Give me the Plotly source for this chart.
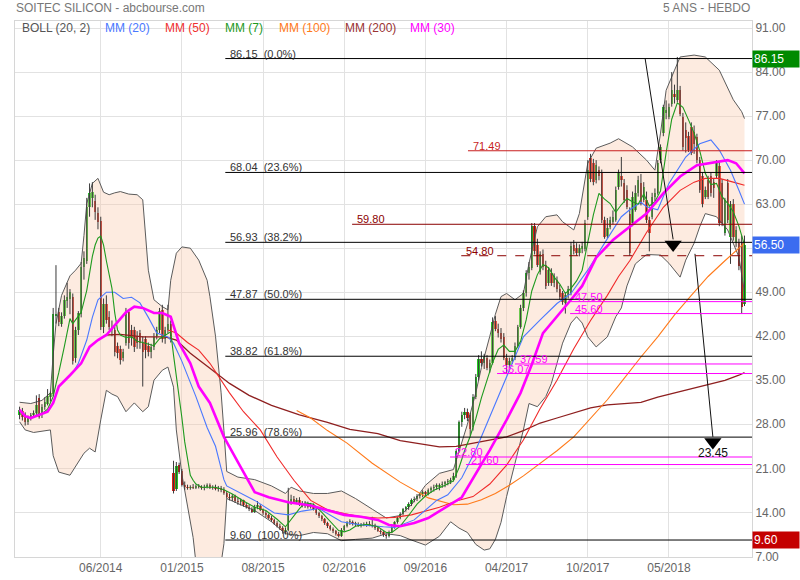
import plotly.graph_objects as go

# ---------------- data ----------------
tick_bars = [29, 58, 87, 116, 145, 174, 203, 232]
tick_labels = ["06/2014", "01/2015", "08/2015", "02/2016", "09/2016", "04/2017", "10/2017", "05/2018"]
price_ticks = [7, 14, 21, 28, 35, 42, 49, 56, 63, 70, 77, 84, 91]
price_tick_text = ["7.00", "14.00", "21.00", "28.00", "35.00", "42.00", "49.00", "", "63.00", "70.00",
                   "77.00", "84.00", "91.00"]

opens = [
    29.5, 30.1, 29.6, 28.3, 29.0, 29.4, 29.8, 32.2, 29.4, 30.8,
    31.3, 32.4, 32.8, 45.2, 45.8, 44.0, 45.2, 47.6, 48.0, 48.2,
    38.5, 43.0, 45.5, 53.0, 54.0, 62.5, 64.0, 63.5, 61.6, 60.4,
    43.5, 47.2, 45.0, 43.5, 43.0, 40.5, 40.0, 38.5, 40.9, 45.9,
    43.0, 43.0, 42.0, 42.5, 40.9, 41.5, 40.5, 39.5, 40.3, 42.0,
    43.0, 46.2, 41.5, 43.0, 44.0, 20.2, 17.7, 21.6, 20.6, 18.4,
    18.0, 17.9, 18.1, 17.9, 18.2, 18.0, 17.8, 18.1, 18.3, 17.9,
    18.0, 17.7, 17.9, 17.6, 17.0, 16.5, 16.3, 16.6, 15.8, 15.6,
    15.9, 15.2, 14.8, 14.5, 14.1, 14.9, 15.0, 14.4, 13.9, 13.5,
    13.1, 12.8, 12.3, 11.9, 11.5, 11.0, 11.2, 15.7, 16.2, 15.6,
    16.0, 15.3, 15.0, 15.4, 14.9, 15.2, 14.6, 13.9, 13.4, 12.9,
    12.3, 11.8, 11.4, 11.0, 10.6, 10.3, 11.2, 11.8, 12.4, 12.5,
    12.1, 12.2, 11.9, 12.1, 12.0, 12.2, 11.9, 12.0, 11.5, 11.1,
    10.8, 10.4, 10.2, 10.9, 11.6, 12.4, 13.1, 13.8, 14.5, 14.8,
    15.3, 16.0, 16.2, 16.6, 16.9, 17.2, 16.9, 17.5, 17.8, 18.1,
    18.0, 18.4, 18.5, 18.8, 18.9, 19.2, 19.8, 23.8, 28.3, 29.5,
    30.0, 29.5, 27.5, 32.4, 35.5, 38.4, 37.7, 38.5, 37.0, 37.8,
    44.5, 43.2, 42.5, 41.9, 38.5, 37.5, 38.0, 38.5, 40.5, 43.5,
    46.5, 48.8, 52.0, 52.8, 59.5, 56.5, 52.2, 55.0, 53.3, 50.5,
    52.0, 50.5, 51.0, 49.5, 48.8, 47.3, 48.5, 48.8, 56.5, 56.0,
    55.2, 55.8, 55.9, 61.0, 70.3, 69.5, 66.8, 68.5, 67.9, 60.5,
    58.0, 59.4, 60.2, 60.5, 65.8, 67.5, 66.3, 65.2, 61.5, 60.0,
    62.1, 64.7, 66.3, 63.7, 63.7, 60.5, 61.0, 64.2, 64.8, 70.0,
    74.3, 77.5, 76.9, 79.0, 80.5, 79.6, 81.1, 76.9, 74.8, 73.8,
    75.3, 74.5, 73.7, 70.0, 67.4, 64.2, 66.8, 67.4, 66.5, 67.4,
    69.0, 66.3, 58.4, 66.3, 57.8, 63.1, 56.8, 56.8, 56.8, 47.2,
]
highs = [
    30.8, 30.6, 29.9, 29.4, 29.8, 30.2, 32.6, 32.8, 31.2, 32.3,
    33.6, 33.2, 46.5, 53.3, 46.5, 45.8, 48.5, 50.5, 49.5, 48.8,
    43.5, 46.0, 53.8, 55.5, 64.0, 66.3, 66.5, 64.5, 62.5, 61.0,
    48.0, 48.5, 46.0, 44.5, 43.5, 41.0, 40.5, 40.0, 46.5, 46.3,
    43.8, 43.5, 42.8, 43.0, 42.0, 42.0, 41.0, 40.8, 42.5, 43.5,
    46.5, 47.0, 43.5, 47.0, 44.5, 22.2, 22.0, 21.9, 20.9, 18.9,
    18.4, 18.3, 18.5, 18.4, 18.5, 18.3, 18.4, 18.6, 18.6, 18.3,
    18.4, 18.2, 18.2, 18.0, 17.4, 17.0, 16.9, 16.8, 16.3, 16.2,
    16.0, 15.5, 15.2, 14.8, 15.2, 15.8, 15.3, 14.6, 14.2, 13.8,
    13.4, 13.0, 12.6, 12.2, 11.8, 11.6, 17.9, 16.8, 16.6, 16.3,
    16.4, 15.8, 15.8, 15.7, 15.5, 15.4, 14.8, 14.1, 13.6, 13.1,
    12.5, 12.0, 11.6, 11.2, 10.9, 11.5, 12.0, 12.6, 12.9, 12.7,
    12.5, 12.4, 12.3, 12.4, 12.5, 12.6, 13.3, 12.2, 11.7, 11.3,
    11.0, 10.6, 11.1, 11.8, 12.6, 13.3, 14.0, 14.7, 15.0, 15.6,
    16.2, 16.5, 16.9, 17.1, 17.5, 17.4, 17.8, 18.1, 18.4, 18.6,
    18.6, 18.9, 19.0, 19.3, 19.5, 20.3, 24.0, 28.6, 30.0, 30.6,
    30.5, 29.8, 32.8, 36.0, 39.0, 39.6, 39.2, 39.0, 38.3, 45.0,
    45.2, 44.0, 43.3, 42.5, 39.2, 38.6, 39.0, 41.0, 43.8, 47.0,
    49.3, 52.5, 53.8, 60.0, 60.0, 57.5, 55.5, 55.8, 54.0, 53.0,
    52.8, 52.0, 51.5, 50.2, 49.2, 49.0, 50.0, 57.0, 57.3, 56.8,
    56.6, 57.0, 60.5, 70.0, 71.0, 70.2, 70.0, 69.0, 68.5, 61.0,
    60.8, 61.0, 62.0, 65.8, 68.5, 70.5, 67.0, 66.0, 62.5, 65.0,
    66.0, 67.5, 67.8, 66.5, 65.0, 61.0, 64.8, 65.5, 70.0, 72.5,
    78.8, 79.5, 79.0, 84.0, 82.0, 86.4, 81.8, 77.5, 76.0, 74.5,
    76.0, 75.5, 74.2, 70.5, 68.0, 65.8, 67.5, 68.0, 67.0, 70.0,
    69.8, 67.0, 64.0, 67.0, 63.5, 63.8, 59.5, 57.5, 58.0, 58.0,
]
lows = [
    28.8, 28.6, 27.8, 27.9, 28.6, 29.0, 29.5, 28.9, 29.0, 30.3,
    31.0, 31.6, 32.5, 44.0, 43.6, 43.5, 44.8, 46.5, 45.5, 37.5,
    37.8, 42.2, 45.0, 51.0, 53.5, 61.0, 62.5, 60.5, 59.0, 43.0,
    42.5, 44.0, 43.0, 42.0, 38.8, 38.5, 37.5, 38.0, 40.5, 40.0,
    40.5, 39.5, 40.0, 40.0, 34.0, 38.5, 38.8, 38.5, 39.8, 41.5,
    42.5, 41.0, 40.8, 42.5, 41.0, 17.0, 17.4, 20.1, 18.1, 17.6,
    17.6, 17.6, 17.7, 17.7, 17.8, 17.6, 17.5, 17.8, 17.7, 17.6,
    17.5, 17.3, 17.2, 16.8, 16.2, 15.9, 15.8, 15.5, 15.2, 15.1,
    14.9, 14.6, 14.2, 13.9, 13.9, 14.5, 14.2, 13.6, 13.2, 12.9,
    12.5, 12.0, 11.6, 11.2, 10.6, 10.5, 11.0, 15.2, 15.4, 15.3,
    15.0, 14.8, 14.7, 14.6, 14.6, 14.3, 13.6, 13.1, 12.6, 12.0,
    11.5, 11.1, 10.7, 10.3, 10.0, 10.1, 11.0, 11.6, 12.0, 11.9,
    11.8, 11.7, 11.6, 11.8, 11.7, 11.8, 11.6, 11.2, 10.9, 10.5,
    10.1, 9.8, 10.0, 10.7, 11.4, 12.2, 12.9, 13.5, 14.1, 14.4,
    15.0, 15.6, 15.8, 16.2, 16.4, 16.5, 16.7, 17.1, 17.3, 17.6,
    17.5, 17.9, 18.0, 18.3, 18.5, 18.9, 19.5, 23.5, 27.6, 28.8,
    28.5, 26.2, 27.0, 32.0, 35.0, 37.2, 36.8, 36.6, 36.2, 37.5,
    42.8, 41.8, 41.0, 38.2, 36.0, 37.0, 37.6, 38.2, 40.2, 43.2,
    46.0, 48.3, 51.0, 52.5, 55.0, 53.0, 51.8, 52.5, 49.5, 50.0,
    50.0, 49.8, 49.0, 47.8, 47.0, 45.6, 48.0, 48.5, 55.0, 54.8,
    54.7, 55.2, 55.5, 60.5, 66.5, 66.0, 66.3, 66.8, 60.0, 57.5,
    57.6, 59.0, 59.8, 60.2, 65.3, 65.8, 63.2, 62.2, 54.8, 59.5,
    61.8, 64.2, 62.8, 63.3, 60.0, 55.5, 60.6, 63.5, 64.5, 69.5,
    73.8, 76.5, 76.5, 78.5, 79.0, 79.2, 77.0, 71.5, 71.2, 71.3,
    70.8, 71.0, 69.5, 64.8, 62.5, 63.8, 63.8, 64.2, 64.0, 67.0,
    59.5, 59.5, 58.0, 60.0, 53.5, 57.2, 56.2, 52.5, 45.6, 46.8,
]
closes = [
    30.3, 29.2, 28.3, 29.0, 29.5, 29.8, 31.1, 29.2, 30.8, 31.5,
    32.5, 32.9, 45.5, 45.6, 44.2, 45.2, 47.8, 48.3, 49.0, 38.0,
    43.0, 45.7, 53.0, 54.5, 62.5, 64.8, 65.0, 61.8, 60.2, 43.5,
    47.2, 44.6, 43.5, 43.0, 39.5, 39.3, 38.2, 39.5, 45.9, 40.9,
    41.9, 40.3, 41.0, 40.9, 39.5, 39.8, 39.5, 40.3, 41.9, 43.0,
    46.0, 41.5, 43.0, 44.0, 42.0, 17.4, 21.3, 20.4, 18.4, 18.0,
    17.9, 18.1, 17.9, 18.2, 18.0, 17.8, 18.1, 18.3, 17.9, 18.0,
    17.7, 17.9, 17.5, 17.0, 16.5, 16.3, 16.6, 15.8, 15.6, 15.9,
    15.2, 14.8, 14.5, 14.1, 14.9, 15.2, 14.4, 13.9, 13.5, 13.1,
    12.8, 12.3, 11.9, 11.5, 11.0, 11.2, 15.7, 16.2, 15.6, 16.0,
    15.3, 15.0, 15.4, 14.9, 15.2, 14.6, 13.9, 13.4, 12.9, 12.3,
    11.8, 11.4, 11.0, 10.6, 10.3, 11.2, 11.8, 12.4, 12.5, 12.1,
    12.2, 11.9, 12.1, 12.0, 12.2, 11.9, 12.0, 11.5, 11.1, 10.8,
    10.4, 10.2, 10.9, 11.6, 12.4, 13.1, 13.8, 14.5, 14.8, 15.3,
    16.0, 16.2, 16.6, 16.9, 17.2, 16.9, 17.5, 17.8, 18.1, 18.3,
    18.4, 18.5, 18.8, 18.9, 19.2, 19.8, 23.8, 28.3, 29.5, 30.0,
    29.0, 27.3, 32.4, 35.5, 38.4, 37.7, 38.7, 37.0, 37.8, 44.3,
    43.2, 42.5, 41.5, 38.5, 37.5, 38.0, 38.5, 40.5, 43.5, 46.5,
    48.8, 52.0, 53.0, 59.6, 55.5, 53.3, 55.0, 53.0, 50.0, 52.5,
    50.5, 51.5, 49.5, 48.2, 47.5, 48.5, 49.5, 56.3, 55.5, 55.2,
    56.0, 56.3, 60.0, 68.5, 67.0, 66.5, 69.2, 67.5, 60.5, 57.8,
    59.2, 60.5, 61.0, 65.2, 67.9, 66.8, 63.7, 62.6, 55.2, 64.2,
    64.7, 66.8, 63.1, 65.8, 60.5, 58.4, 64.2, 64.8, 69.5, 72.1,
    78.5, 78.0, 78.5, 81.1, 80.0, 81.1, 77.4, 72.1, 73.5, 71.6,
    71.1, 72.5, 70.0, 65.2, 63.1, 65.2, 64.2, 64.7, 65.5, 69.5,
    60.0, 60.0, 63.7, 60.5, 63.1, 57.8, 58.9, 53.1, 46.7, 56.5,
]

# indicator lines (bar index, value)
mm7_bars = [6, 8, 10, 12, 13, 14, 16, 18, 19, 20, 22, 24, 26, 27, 28, 29, 30, 31, 32, 33, 34, 35, 36, 38, 40,
            42, 44, 46, 48, 50, 52, 54, 55, 56, 57, 58, 59, 60, 61, 62, 63, 65, 70, 73, 76, 80, 84, 88, 92, 95,
            96, 98, 100, 102, 105, 108, 111, 114, 116, 118, 120, 124, 128, 131, 133, 136, 139, 142, 145, 148,
            152, 155, 157, 159, 161, 163, 165, 167, 169, 171, 173, 175, 177, 179, 181, 183, 185, 187, 189, 191,
            193, 195, 197, 199, 201, 203, 205, 207, 209, 211, 213, 215, 217, 219, 221, 223, 225, 227, 229, 231,
            233, 235, 237, 239, 241, 243, 245, 247, 249, 251, 253, 255, 257, 259]
mm7_vals = [29.6, 29.7, 30.4, 32.4, 34.4, 36.2, 40.4, 44.8, 44.0, 44.6, 45.8, 49.3, 54.7, 56.5, 57.6, 57.9, 56.5,
            54.0, 51.8, 49.6, 45.7, 43.0, 42.2, 41.8, 41.9, 41.2, 41.0, 40.8, 40.5, 41.6, 42.2, 42.7, 39.0, 35.7,
            32.8, 29.0, 25.2, 22.4, 19.9, 19.1, 18.5, 18.0, 18.0, 17.6, 16.9, 15.8, 14.8, 14.3, 12.9, 11.7, 12.3,
            13.4, 14.6, 15.5, 15.3, 14.0, 12.5, 11.1, 10.9, 11.2, 11.8, 12.1, 11.7, 10.8, 10.8, 11.8, 13.5, 15.3,
            16.6, 17.5, 18.3, 19.0, 21.1, 23.8, 26.1, 28.9, 32.2, 35.2, 37.8, 39.9, 40.6, 39.6, 39.6, 41.2, 44.6,
            49.2, 51.8, 53.4, 52.9, 51.4, 50.3, 48.8, 49.6, 50.8, 52.5, 56.9, 61.3, 64.7, 63.8, 63.1, 61.7, 62.9,
            63.9, 63.4, 63.0, 64.6, 62.7, 63.4, 65.1, 71.2, 76.5, 79.1, 78.4, 76.4, 74.3, 71.5, 67.9, 66.1, 66.3,
            64.2, 63.1, 61.8, 59.5, 56.5]

mm20_bars = [19, 21, 24, 26, 28, 31, 34, 37, 40, 43, 46, 49, 53, 55, 58, 63, 67, 70, 72, 73, 74, 78, 84, 91, 96,
             101, 107, 115, 122, 130, 134, 141, 149, 153, 158, 163, 171, 176, 180, 186, 192, 197, 203, 209, 215,
             218, 222, 224, 228, 232, 238, 243, 247, 250, 254, 257, 259]
mm20_vals = [36.2, 37.7, 41.4, 45.0, 47.8, 49.0, 49.0, 48.0, 48.2, 47.3, 45.0, 42.5, 41.9, 40.9, 38.0, 32.4, 27.5,
             24.5, 21.0, 19.2, 18.2, 17.3, 15.9, 13.9, 13.6, 14.2, 14.6, 12.5, 12.0, 11.7, 11.6, 12.8, 15.9, 16.8,
             19.5, 23.9, 32.4, 37.7, 41.9, 44.6, 47.2, 48.8, 52.5, 56.8, 61.0, 62.1, 63.3, 62.6, 62.1, 66.3, 70.5,
             72.6, 73.2, 71.6, 68.4, 65.2, 63.0]

mm30_bars = [0, 2, 4, 7, 10, 12, 14, 18, 22, 25, 28, 31, 35, 38, 41, 44, 48, 51, 54, 57, 61, 64, 68, 73, 79, 84,
             89, 96, 104, 110, 116, 122, 128, 132, 136, 141, 146, 149, 158, 168, 174, 179, 183, 187, 192, 197, 201,
             206, 212, 218, 224, 230, 236, 242, 248, 253, 256, 259]
mm30_vals = [30.3, 29.3, 29.0, 29.5, 30.0, 31.4, 34.0, 35.8, 37.7, 40.3, 41.4, 42.2, 44.3, 45.8, 46.7, 46.5, 45.7,
             45.7, 45.1, 40.9, 37.7, 34.0, 31.4, 26.0, 21.2, 17.2, 16.4, 15.6, 15.1, 14.4, 13.6, 13.3, 12.8, 12.0,
             11.8, 12.3, 13.1, 13.9, 16.4, 23.9, 28.7, 33.0, 37.5, 42.5, 45.1, 47.8, 50.0, 54.5, 57.3, 59.4, 61.5,
             64.7, 67.4, 69.2, 69.7, 70.0, 69.5, 67.9]

mm50_bars = [53, 56, 60, 64, 68, 75, 80, 86, 92, 98, 104, 110, 116, 122, 128, 134, 140, 145, 150, 156, 162, 168,
             174, 180, 186, 192, 198, 204, 210, 214, 218, 224, 230, 236, 241, 245, 250, 255, 259]
mm50_vals = [43.0, 42.5, 41.0, 39.8, 37.7, 33.0, 30.0, 27.1, 22.8, 19.1, 15.9, 14.4, 13.8, 13.3, 13.1, 13.2, 13.6,
             14.2, 14.8, 15.8, 16.5, 18.5, 21.5, 25.5, 30.5, 35.0, 40.0, 44.5, 48.5, 51.5, 54.0, 58.5, 62.5, 65.2,
             66.5, 67.1, 67.1, 66.5, 66.0]

mm100_bars = [99, 104, 110, 117, 126, 136, 146, 155, 160, 165, 170, 175, 180, 186, 192, 198, 204, 210, 216, 222,
              228, 234, 240, 246, 252, 259]
mm100_vals = [30.2, 29.0, 27.0, 25.0, 21.8, 18.8, 16.3, 15.2, 15.3, 16.0, 17.0, 18.3, 19.8, 21.8, 23.8, 26.0,
              29.0, 31.9, 35.3, 38.7, 41.9, 45.4, 48.5, 51.5, 54.0, 56.8]

mm200_bars = [31, 36, 44, 52, 56, 61, 68, 75, 82, 90, 100, 110, 118, 128, 136, 144, 150, 156, 162, 168, 174, 180,
              186, 192, 198, 204, 210, 216, 222, 228, 234, 240, 246, 252, 257, 259]
mm200_vals = [42.2, 42.3, 41.9, 41.9, 41.4, 39.3, 36.9, 34.5, 32.6, 31.0, 29.5, 28.3, 27.2, 26.5, 25.4, 24.8, 24.4,
              24.5, 25.0, 25.5, 26.0, 27.0, 28.2, 29.0, 29.8, 30.6, 31.1, 31.3, 31.5, 32.3, 33.0, 33.6, 34.3, 35.0,
              35.8, 36.2]

boll_up_bars = [0, 4, 8, 11, 12, 13, 15, 18, 20, 22, 23, 24, 26, 28, 30, 32, 34, 36, 39, 42, 44, 45, 46, 48, 51,
                53, 54, 56, 58, 61, 64, 67, 68, 70, 72, 73, 74, 78, 84, 90, 95, 97, 100, 105, 110, 115, 120, 126,
                131, 136, 140, 145, 150, 155, 158, 160, 163, 165, 168, 170, 172, 174, 177, 180, 182, 185, 188,
                192, 194, 198, 200, 203, 206, 211, 214, 219, 224, 227, 229, 231, 234, 236, 241, 245, 250, 255,
                258, 259]
boll_up_vals = [31.5, 31.3, 31.8, 33.0, 39.0, 44.0, 48.5, 51.6, 52.5, 53.6, 58.0, 63.1, 66.3, 67.1, 64.9, 64.5,
                64.8, 65.0, 64.6, 64.5, 63.7, 58.0, 52.5, 47.8, 46.7, 46.2, 50.9, 55.2, 56.2, 56.0, 54.1, 50.9,
                48.3, 42.0, 33.0, 27.0, 20.5, 19.6, 19.2, 18.2, 17.0, 18.0, 17.4, 17.0, 17.0, 17.4, 16.2, 14.5,
                13.1, 13.5, 15.2, 18.3, 20.2, 20.8, 25.0, 28.0, 33.0, 37.0, 42.0, 45.5, 48.3, 48.8, 47.8, 48.8,
                53.6, 59.4, 61.0, 61.3, 60.2, 58.9, 61.5, 69.5, 71.9, 72.7, 73.4, 72.1, 70.0, 68.4, 74.3, 81.1,
                84.3, 86.4, 86.7, 86.4, 84.3, 79.6, 77.7, 76.6]

boll_lo_bars = [0, 2, 5, 11, 12, 14, 18, 21, 23, 25, 27, 29, 31, 33, 35, 38, 41, 44, 46, 48, 51, 53, 55, 56, 58,
                60, 62, 63, 65, 70, 72, 73, 74, 80, 84, 90, 95, 100, 105, 110, 115, 120, 126, 131, 136, 140, 145,
                150, 154, 157, 160, 163, 166, 168, 170, 172, 174, 177, 180, 182, 185, 188, 190, 192, 194, 197,
                199, 201, 203, 206, 210, 213, 215, 217, 220, 224, 229, 232, 236, 238, 241, 243, 245, 249, 253,
                257, 259]
boll_lo_vals = [28.4, 27.1, 26.7, 27.1, 23.0, 20.4, 19.9, 22.0, 23.4, 24.2, 23.6, 28.7, 33.4, 32.8, 32.4, 30.0,
                31.4, 30.0, 30.8, 35.0, 36.6, 37.1, 33.9, 27.1, 20.0, 15.0, 10.0, 6.0, 4.0, 4.5, 5.9, 9.0, 16.2,
                15.0, 14.3, 12.5, 10.6, 10.3, 10.8, 10.6, 9.5, 9.7, 9.9, 10.6, 10.3, 9.6, 8.8, 10.2, 12.5, 11.5,
                10.8, 8.9, 8.0, 8.2, 9.7, 12.4, 16.5, 21.8, 27.1, 31.3, 30.8, 32.4, 34.5, 37.7, 40.9, 44.1, 45.1,
                44.1, 41.9, 40.3, 41.9, 45.1, 46.5, 50.0, 53.5, 55.0, 54.9, 53.6, 51.4, 54.1, 56.8, 59.4, 61.5,
                61.0, 58.9, 54.6, 49.0]

fib_values = [86.15, 68.04, 56.93, 47.87, 38.82, 25.96, 9.60]
fib_pcts = ["0.0%", "23.6%", "38.2%", "50.0%", "61.8%", "78.6%", "100.0%"]
red_levels = [71.49, 59.80, 54.80]
magenta_levels = [47.50, 45.60, 37.59, 36.07, 22.80, 21.60]
last_price, high_price, low_price = 56.50, 86.15, 9.60
target_price = 23.45

# ---------------- styling / geometry ----------------
FONT = "Liberation Sans, Arial, sans-serif"
X_MIN, X_MAX = -1.64, 261.68
Y_MIN, Y_MAX = 6.9, 92.12

n = len(closes)
idx = list(range(n))
is_up = [c >= o for o, c in zip(opens, closes)]
body_base = [min(o, c) for o, c in zip(opens, closes)]
body_len = [max(abs(c - o), 0.15) for o, c in zip(opens, closes)]
body_col = ["#22c822" if u else "#e21d14" for u in is_up]

wick_x, wick_y = [], []
for i in idx:
    wick_x += [i, i, None]
    wick_y += [lows[i], highs[i], None]

fig = go.Figure()

# Bollinger band area
fig.add_trace(go.Scatter(
    x=boll_up_bars + boll_lo_bars[::-1], y=boll_up_vals + boll_lo_vals[::-1],
    fill="toself", fillcolor="rgba(249,200,168,0.36)", line=dict(width=0),
    mode="lines", hoverinfo="skip"))
for bx, bv in ((boll_up_bars, boll_up_vals), (boll_lo_bars, boll_lo_vals)):
    fig.add_trace(go.Scatter(x=bx, y=bv, mode="lines",
                             line=dict(color="#5b5b5b", width=1), hoverinfo="skip"))

# candles
fig.add_trace(go.Scatter(x=wick_x, y=wick_y, mode="lines",
                         line=dict(color="#3a3a3a", width=1), hoverinfo="skip"))
fig.add_trace(go.Bar(x=idx, y=body_len, base=body_base, width=0.86,
                     marker=dict(color=body_col, line=dict(width=0)),
                     hoverinfo="skip"))

# moving averages
for bx, bv, col, w in (
        (mm200_bars, mm200_vals, "#8e1f1f", 1.3),
        (mm100_bars, mm100_vals, "#ff7a1a", 1.1),
        (mm50_bars, mm50_vals, "#f02a2a", 1.1),
        (mm20_bars, mm20_vals, "#4a78ff", 1.1),
        (mm7_bars, mm7_vals, "#1e9a1e", 1.1),
        (mm30_bars, mm30_vals, "#ff00ff", 2.6)):
    fig.add_trace(go.Scatter(x=bx, y=bv, mode="lines", line=dict(color=col, width=w),
                             hoverinfo="skip"))

# projection arrows
arrow_lines = [([223.5, 233.5], [high_price, 57.4]), ([241.3, 247.7], [55.1, 26.0])]
arrow_heads = ([233.5, 247.7], [56.6, 25.2])
for ax_, ay_ in arrow_lines:
    fig.add_trace(go.Scatter(x=ax_, y=ay_, mode="lines", line=dict(color="#111", width=1),
                             hoverinfo="skip"))
fig.add_trace(go.Scatter(x=arrow_heads[0], y=arrow_heads[1], mode="markers",
                         marker=dict(symbol="triangle-down", size=15, color="#000"),
                         hoverinfo="skip"))

shapes = []
annotations = []

def level(value, x_start, color, dash="solid"):
    shapes.append(dict(type="line", xref="x", yref="y", x0=x_start, x1=X_MAX, y0=value, y1=value,
                       line=dict(color=color, width=1, dash=dash), layer="above"))

def level_label(text, value, x_start, color):
    annotations.append(dict(x=x_start, y=value, xref="x", yref="y", text=text, showarrow=False,
                            xanchor="left", yanchor="bottom", xshift=3, yshift=-3,
                            font=dict(family=FONT, size=11, color=color)))

fib_start = 73.5
for v, p in zip(fib_values, fib_pcts):
    level(v, fib_start, "#000")
    level_label(f"{v:.2f}\u00a0\u00a0({p})", v, fib_start, "#333")

red_starts = [160.2, 118.8, 157.8]
red_cols = ["#c81e1e", "#8b0000", "#8b0000"]
red_dash = ["solid", "solid", "dash"]
for v, s, c, d in zip(red_levels, red_starts, red_cols, red_dash):
    level(v, s, c, d)
    level_label(f"{v:.2f}", v, s, c)

mag_starts = [196.7, 196.7, 177.0, 170.6, 153.8, 159.5]
for v, s in zip(magenta_levels, mag_starts):
    level(v, s, "#ff00ff")
    level_label(f"{v:.2f}", v, s, "#ff00ff")

annotations.append(dict(x=247.7, y=target_price, xref="x", yref="y", text=f"{target_price:.2f}",
                        showarrow=False, xanchor="center", yanchor="middle",
                        font=dict(family=FONT, size=12, color="#111")))

# right-side price boxes
for v, bg in ((high_price, "#008a00"), (last_price, "#3b6cf0"), (low_price, "#c40000")):
    annotations.append(dict(x=1, y=v, xref="paper", yref="y", text=f"{v:.2f}", showarrow=False,
                            xanchor="left", yanchor="middle", align="left", width=44, height=14,
                            bgcolor=bg, borderpad=1,
                            font=dict(family=FONT, size=12, color="#fff")))

# title & header
annotations.append(dict(x=0, y=1, xref="paper", yref="paper", text="SOITEC SILICON - abcbourse.com",
                        showarrow=False, xanchor="left", yanchor="middle", xshift=-1, yshift=13,
                        font=dict(family=FONT, size=12, color="#777")))
annotations.append(dict(x=1, y=1, xref="paper", yref="paper", text="5 ANS - HEBDO",
                        showarrow=False, xanchor="right", yanchor="middle", xshift=0, yshift=13,
                        font=dict(family=FONT, size=12, color="#777")))

legend_items = [("BOLL (20, 2)", "#555", 5), ("MM (20)", "#4a78ff", 88), ("MM (50)", "#f03030", 148),
                ("MM (7)", "#1e9a1e", 208), ("MM (100)", "#ff7a1a", 262), ("MM (200)", "#9a3333", 328),
                ("MM (30)", "#ff00ff", 393)]
for txt, col, off in legend_items:
    annotations.append(dict(x=0, y=1, xref="paper", yref="paper", text=txt, showarrow=False,
                            xanchor="left", yanchor="middle", xshift=off, yshift=-7,
                            font=dict(family=FONT, size=12, color=col)))

fig.update_layout(
    width=800, height=580,
    margin=dict(l=15, r=48, t=21, b=23, autoexpand=False),
    paper_bgcolor="white", plot_bgcolor="white",
    showlegend=False, bargap=0,
    font=dict(family=FONT, size=12, color="#666"),
    shapes=shapes, annotations=annotations,
    xaxis=dict(range=[X_MIN, X_MAX], tickmode="array", tickvals=tick_bars, ticktext=tick_labels,
               showgrid=True, gridcolor="#e2e2e2", gridwidth=1, zeroline=False,
               showline=True, linecolor="#d6d6d6", mirror=True, ticks="", automargin=False,
               tickfont=dict(family=FONT, size=12, color="#666")),
    yaxis=dict(range=[Y_MIN, Y_MAX], side="right", tickmode="array", tickvals=price_ticks,
               ticktext=price_tick_text, showgrid=True, gridcolor="#e2e2e2", gridwidth=1,
               zeroline=False, showline=True, linecolor="#d6d6d6", mirror=True, ticks="",
               automargin=False, tickfont=dict(family=FONT, size=12, color="#666")),
)

fig.write_html("out.html",
               config={"displayModeBar": False, "staticPlot": True},
               post_script="document.body.style.margin='0';document.body.style.padding='0';")
